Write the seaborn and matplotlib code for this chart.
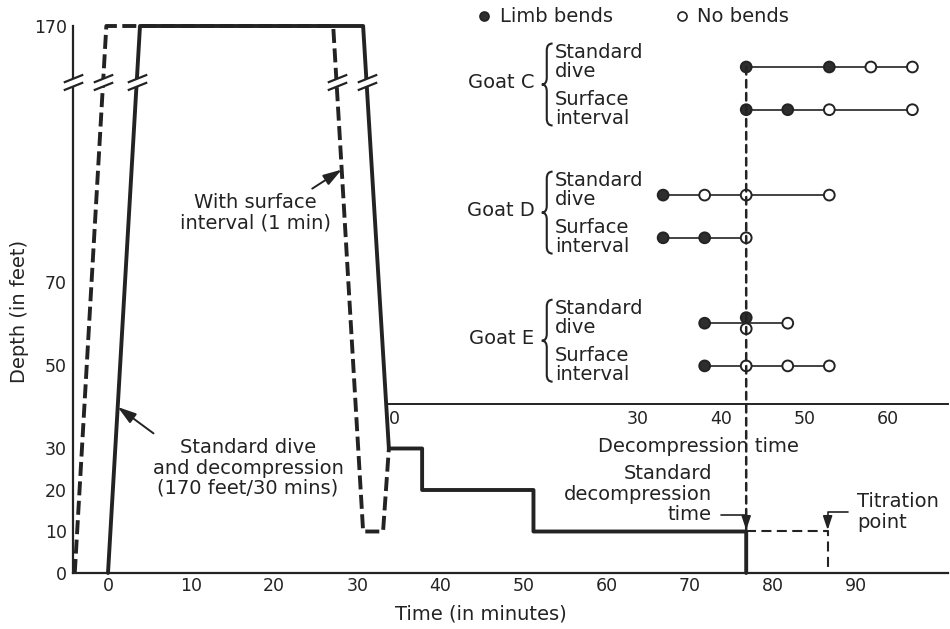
import numpy as np
import pandas as pd
import matplotlib
matplotlib.use("Agg")
import matplotlib.pyplot as plt
from matplotlib.path import Path
from matplotlib.patches import PathPatch, ConnectionPatch
from matplotlib.lines import Line2D
import seaborn as sns

# ---------------- data ----------------
# dive profiles: time (min) vs depth (ft)
standard_time = [0, 3.85, 30.7, 33.8, 37.8, 37.8, 51.2, 51.2, 76.8, 76.8]
standard_depth = [0, 170, 170, 30, 30, 20, 20, 10, 10, 0]
surface_time = [-4.0, -0.2, 27.1, 30.7, 33.1, 33.8]
surface_depth = [0, 170, 170, 10, 10, 30]
titration_time = [76.8, 86.6, 86.6]
titration_depth = [10, 10, 0]

x_ticks = [0, 10, 20, 30, 40, 50, 60, 70, 80, 90]
y_ticks = [0, 10, 20, 30, 50, 70, 170]

decomp_start = 33.8      # main time where decompression time = 0
standard_decomp = 43     # standard decompression time (min)
titration_point = 86.6
inset_ticks = [0, 30, 40, 50, 60]

goat_labels = ["Goat C", "Goat D", "Goat E"]
dive_labels = ["Standard\ndive", "Surface\ninterval"]
c_std_t = [43, 53, 58, 63]; c_std_b = [1, 1, 0, 0]
c_srf_t = [43, 48, 53, 63]; c_srf_b = [1, 1, 0, 0]
d_std_t = [33, 38, 43, 53]; d_std_b = [1, 0, 0, 0]
d_srf_t = [33, 38, 43];     d_srf_b = [1, 1, 0]
e_std_t = [38, 43, 43, 48]; e_std_b = [1, 1, 0, 0]
e_srf_t = [38, 43, 48, 53]; e_srf_b = [1, 0, 0, 0]

# ---------------- style ----------------
sns.set_style("white")
ink = "#232323"
plt.rcParams["font.family"] = ["DejaVu Sans"]
plt.rcParams["text.color"] = ink
plt.rcParams["axes.edgecolor"] = ink
plt.rcParams["xtick.color"] = ink
plt.rcParams["ytick.color"] = ink
plt.rcParams["axes.labelcolor"] = ink
FS = 14
TFS = 12.5
LS = 1.08

W, H = 950, 629
fig = plt.figure(figsize=(W / 100, H / 100), dpi=100)
fig.patch.set_facecolor("white")


def rect(l, t, r, b):
    return [l / W, 1 - b / H, (r - l) / W, (b - t) / H]


# broken depth scale: linear to 70 ft, compressed above
Y_BRK, Y_K = 70.0, 0.618


def fwd(y):
    y = np.asarray(y, dtype=float)
    return np.where(y <= Y_BRK, y, Y_BRK + (y - Y_BRK) * Y_K)


def inv(u):
    u = np.asarray(u, dtype=float)
    return np.where(u <= Y_BRK, u, Y_BRK + (u - Y_BRK) / Y_K)


ax = fig.add_axes(rect(73, 26, 948, 573))
ax.set_facecolor("none")
ax.set_yscale("function", functions=(fwd, inv))
px_per_min = 8.31
x_lo, x_hi = -35 / px_per_min, 840 / px_per_min
ax.set_xlim(x_lo, x_hi)
ax.set_ylim(0, 170)

LW = 2.8
sns.lineplot(x=standard_time, y=standard_depth, sort=False, estimator=None,
             ax=ax, color=ink, lw=LW, clip_on=False, zorder=3)
sns.lineplot(x=surface_time, y=surface_depth, sort=False, estimator=None,
             ax=ax, color=ink, lw=LW, linestyle=(0, (3.6, 1.4)),
             clip_on=False, zorder=3)
sns.lineplot(x=titration_time, y=titration_depth, sort=False, estimator=None,
             ax=ax, color=ink, lw=1.5, linestyle=(0, (4.8, 2.6)),
             clip_on=False, zorder=3)

ax.set_xticks(x_ticks)
ax.set_xticklabels([str(v) for v in x_ticks])
ax.set_yticks(y_ticks)
ax.set_yticklabels([str(v) for v in y_ticks])
ax.yaxis.set_minor_locator(matplotlib.ticker.NullLocator())
ax.tick_params(axis="x", direction="in", length=6, width=1.3, labelsize=TFS, pad=3)
ax.tick_params(axis="y", direction="in", length=6, width=1.3, labelsize=TFS, pad=4.5)
for s in ["top", "right"]:
    ax.spines[s].set_visible(False)
for s in ["left", "bottom"]:
    ax.spines[s].set_linewidth(1.6)

ax.set_xlabel("Time (in minutes)", fontsize=FS)
ax.xaxis.set_label_coords((481 - 73) / 875, (573 - 605) / 547)
ax.set_ylabel("Depth (in feet)", fontsize=FS)
ax.yaxis.label.set_va("center")
ax.yaxis.set_label_coords((20 - 73) / 875, (573 - 311) / 547)

# ---- axis-break marks ----
brk_depth = 148


def x_at(depth, p0, p1):
    u0, u1, u = fwd(p0[1]), fwd(p1[1]), fwd(depth)
    f = (u - u0) / (u1 - u0)
    return p0[0] + f * (p1[0] - p0[0])


brk_x = [
    x_lo,
    x_at(brk_depth, (surface_time[0], surface_depth[0]), (surface_time[1], surface_depth[1])),
    x_at(brk_depth, (standard_time[0], standard_depth[0]), (standard_time[1], standard_depth[1])),
    x_at(brk_depth, (surface_time[2], surface_depth[2]), (surface_time[3], surface_depth[3])),
    x_at(brk_depth, (standard_time[2], standard_depth[2]), (standard_time[3], standard_depth[3])),
]
fill_marker = Path([(-1, -0.8), (1, 0.0), (1, 0.8), (-1, 0.0), (-1, -0.8)],
                   [Path.MOVETO, Path.LINETO, Path.LINETO, Path.LINETO, Path.CLOSEPOLY])
line_marker = Path([(-1, -0.8), (1, 0.0), (-1, 0.0), (1, 0.8)],
                   [Path.MOVETO, Path.LINETO, Path.MOVETO, Path.LINETO])
ax.plot(brk_x, [brk_depth] * len(brk_x), ls="none", marker=fill_marker, ms=14,
        mfc="white", mec="white", mew=0.5, clip_on=False, zorder=5)
ax.plot(brk_x, [brk_depth] * len(brk_x), ls="none", marker=line_marker, ms=14,
        mfc="none", mec=ink, mew=1.6, clip_on=False, zorder=6)

# ---- annotations on main chart ----
arrow_kw = dict(arrowstyle="-|>,head_length=0.8,head_width=0.25", color=ink, lw=1.4)
seg = ((surface_time[2], surface_depth[2]), (surface_time[3], surface_depth[3]))
d1 = 114
ax.annotate("With surface\ninterval (1 min)", xy=(x_at(d1, *seg), d1),
            xytext=(255, H - 213), textcoords="figure pixels",
            ha="center", va="center", fontsize=FS, linespacing=LS,
            arrowprops=dict(**arrow_kw, relpos=(0.83, 1.0), shrinkA=2, shrinkB=0))
seg2 = ((standard_time[0], standard_depth[0]), (standard_time[1], standard_depth[1]))
d2 = 40
ax.annotate("Standard dive\nand decompression\n(170 feet/30 mins)",
            xy=(x_at(d2, *seg2), d2), xytext=(248, H - 468),
            textcoords="figure pixels", ha="center", va="center", fontsize=FS,
            linespacing=LS,
            arrowprops=dict(**arrow_kw, relpos=(0.04, 1.0), shrinkA=2, shrinkB=0))

elbow_kw = dict(arrowstyle="-|>,head_length=0.6,head_width=0.2", color=ink, lw=1.2,
                connectionstyle="angle,angleA=0,angleB=90,rad=0")
ax.annotate("Standard\ndecompression\ntime", xy=(decomp_start + standard_decomp, 10),
            xytext=(712, H - 494), textcoords="figure pixels",
            ha="right", va="center", multialignment="right", fontsize=FS,
            linespacing=LS,
            arrowprops=dict(**elbow_kw, relpos=(1.0, 0.15), shrinkA=4, shrinkB=1))
ax.annotate("Titration\npoint", xy=(titration_point, 10),
            xytext=(857, H - 512), textcoords="figure pixels",
            ha="left", va="center", fontsize=FS, linespacing=LS,
            arrowprops=dict(**elbow_kw, relpos=(0.0, 0.5), shrinkA=4, shrinkB=1))

# ---------------- inset: goat results ----------------
ax_in = fig.add_axes(rect(386, 0, 948, 404))
ax_in.set_facecolor("none")
in_lo = x_lo + (386 - 73) / px_per_min - decomp_start
ax_in.set_xlim(in_lo, x_hi - decomp_start)
row_unit = 42.7
ax_in.set_ylim((404 - 67) / row_unit, (0 - 67) / row_unit)

rows_t = [c_std_t, c_srf_t, d_std_t, d_srf_t, e_std_t, e_srf_t]
rows_b = [c_std_b, c_srf_b, d_std_b, d_srf_b, e_std_b, e_srf_b]
row_pos = []
for g in range(3):
    row_pos += [3 * g, 3 * g + 1]

recs = []
for r, (ts, bs) in enumerate(zip(rows_t, rows_b)):
    for t, b in zip(ts, bs):
        recs.append(dict(row=r, time=t,
                         result="Limb bends" if b else "No bends"))
df = pd.DataFrame(recs)
df["y"] = [row_pos[r] for r in df["row"]]
# stack duplicates at the same time vertically
dup = df.groupby(["row", "time"])["time"].transform("count") > 1
order = df.groupby(["row", "time"]).cumcount()
df.loc[dup, "y"] = df.loc[dup, "y"] + np.where(order[dup] == 0, -0.13, 0.13)

for r, ts in enumerate(rows_t):
    ax_in.hlines(row_pos[r], min(ts), max(ts), color=ink, lw=1.2, zorder=2)

sns.scatterplot(data=df, x="time", y="y", hue="result",
                palette={"Limb bends": "#2e2e2e", "No bends": "white"},
                edgecolor=ink, linewidth=1.4, s=60, ax=ax_in, legend=False,
                zorder=4, clip_on=False)

# dashed line marking the standard decompression time
cp = ConnectionPatch(xyA=(standard_decomp, row_pos[0]), coordsA=ax_in.transData,
                     xyB=(decomp_start + standard_decomp, 10), coordsB=ax.transData,
                     color=ink, lw=1.8, linestyle=(0, (3.0, 2.2)), zorder=1)
fig.add_artist(cp)


def brace(a, top, bot, xt, xm, xe):
    mid = (top + bot) / 2
    c = 0.16
    verts = [(xe, top), (xm, top), (xm, top + c), (xm, mid - c), (xm, mid), (xt, mid),
             (xm, mid), (xm, mid + c), (xm, bot - c), (xm, bot), (xe, bot)]
    codes = [Path.MOVETO, Path.CURVE3, Path.CURVE3, Path.LINETO, Path.CURVE3, Path.CURVE3,
             Path.CURVE3, Path.CURVE3, Path.LINETO, Path.CURVE3, Path.CURVE3]
    a.add_patch(PathPatch(Path(verts, codes), fill=False, lw=1.5, edgecolor=ink,
                          clip_on=False))


for g, name in enumerate(goat_labels):
    r0 = 3 * g
    ax_in.text(17.5, r0 + 0.37, name, ha="right", va="center", fontsize=FS)
    brace(ax_in, r0 - 0.55, r0 + 1.37, 18.4, 19.0, 19.7)
    ax_in.text(19.95, r0 - 0.12, dive_labels[0], ha="left", va="center",
               fontsize=FS, linespacing=0.98)
    ax_in.text(19.95, r0 + 0.98, dive_labels[1], ha="left", va="center",
               fontsize=FS, linespacing=0.98)

ax_in.set_xticks(inset_ticks)
ax_in.set_xticklabels([str(v) for v in inset_ticks])
ax_in.get_xticklabels()[0].set_ha("left")
ax_in.set_yticks([])
ax_in.tick_params(axis="x", direction="in", length=7, width=1.2, labelsize=TFS, pad=4)
for s in ["top", "right", "left"]:
    ax_in.spines[s].set_visible(False)
ax_in.spines["bottom"].set_linewidth(1.4)
ax_in.set_xlabel("Decompression time", fontsize=FS)
ax_in.xaxis.set_label_coords((698 - 386) / 562, (404 - 437) / 404)
ax_in.set_ylabel("")

handles = [Line2D([], [], ls="none", marker="o", ms=6.5, mfc="#2e2e2e", mec=ink, mew=1.2),
           Line2D([], [], ls="none", marker="o", ms=6.5, mfc="white", mec=ink, mew=1.2)]
fig.legend(handles, ["Limb bends", "No bends"], loc="center left",
           bbox_to_anchor=(461 / W, 1 - 17 / H), bbox_transform=fig.transFigure,
           ncol=2, frameon=False, fontsize=FS, handlelength=0.6,
           handletextpad=0.5, columnspacing=3.25, borderpad=0.4)

fig.savefig("out.png", dpi=100, facecolor="white")
